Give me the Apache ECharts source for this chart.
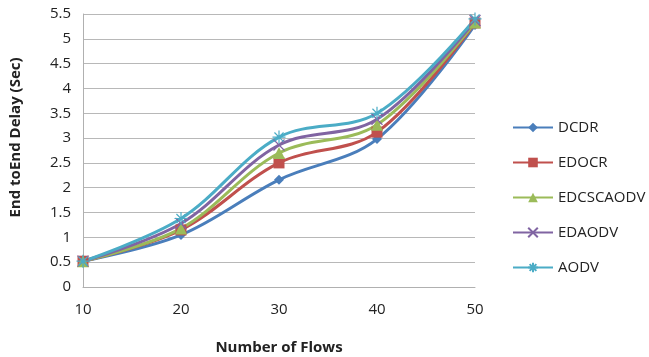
<!DOCTYPE html>
<html>
<head>
<meta charset="utf-8">
<script src="https://cdn.jsdelivr.net/npm/echarts@6/dist/echarts.min.js"></script>
<style>
  html, body { margin: 0; padding: 0; background: #fff; }
  #chart { width: 649px; height: 357px; }
</style>
</head>
<body>
<div id="chart"></div>
<script>
// data
var flows = ['10', '20', '30', '40', '50'];
var dcdr = [0.52, 1.05, 2.16, 2.98, 5.28];
var edocr = [0.52, 1.15, 2.5, 3.12, 5.32];
var edcscaodv = [0.52, 1.18, 2.7, 3.27, 5.33];
var edaodv = [0.52, 1.28, 2.86, 3.38, 5.37];
var aodv = [0.52, 1.38, 3.02, 3.5, 5.4];

var chart = echarts.init(document.getElementById('chart'));

function mk(name, data, color, symbol, size, hollow) {
    return {
        name: name,
        type: 'line',
        smooth: 0.35,
        data: data,
        symbol: symbol,
        symbolSize: size,
        lineStyle: { color: color, width: 3 },
        itemStyle: hollow ? { color: color, borderColor: color, borderWidth: 1.2 } : { color: color },
        emphasis: { disabled: true }
    };
}

var option = {
    animation: false,
    textStyle: { fontFamily: 'Open Sans' },
    grid: { left: 83, right: 174, top: 14, bottom: 70, outerBoundsMode: 'none', containLabel: false },
    legend: {
        orient: 'vertical',
        left: 507,
        top: 115,
        itemWidth: 40,
        itemHeight: 12,
        itemGap: 20,
        textStyle: { fontSize: 15, color: '#222', fontFamily: 'Open Sans' },
        data: ['DCDR', 'EDOCR', 'EDCSCAODV', 'EDAODV', 'AODV']
    },
    xAxis: {
        type: 'category',
        data: flows,
        boundaryGap: false,
        name: 'Number of Flows',
        nameLocation: 'middle',
        nameGap: 53,
        nameTextStyle: { fontSize: 15, fontWeight: 'bold', color: '#222' },
        axisLine: { lineStyle: { color: '#b0b0b0' } },
        axisTick: { show: false },
        axisLabel: { fontSize: 15, color: '#222', margin: 15 }
    },
    yAxis: {
        type: 'value',
        min: 0,
        max: 5.5,
        interval: 0.5,
        name: 'End toEnd Delay (Sec)',
        nameLocation: 'middle',
        nameGap: 60,
        nameTextStyle: { fontSize: 15, fontWeight: 'bold', color: '#222', padding: [0, 0, 0, 26] },
        axisLine: { show: true, lineStyle: { color: '#b0b0b0' } },
        axisTick: { show: false },
        axisLabel: { fontSize: 15, color: '#222', margin: 12 },
        splitLine: { lineStyle: { color: '#b8b8b8', width: 1.2 } }
    },
    series: [
        mk('DCDR', dcdr, '#4a7ebb', 'diamond', 10),
        mk('EDOCR', edocr, '#c0504d', 'rect', 11),
        mk('EDCSCAODV', edcscaodv, '#9bbb59', 'triangle', 12),
        mk('EDAODV', edaodv, '#8064a2', 'path://M0,0L10,10M10,0L0,10', 11, true),
        mk('AODV', aodv, '#4bacc6', 'path://M5,0L5,10M0,5L10,5M1.5,1.5L8.5,8.5M8.5,1.5L1.5,8.5', 13, true)
    ]
};
chart.setOption(option, true);
</script>
</body>
</html>
